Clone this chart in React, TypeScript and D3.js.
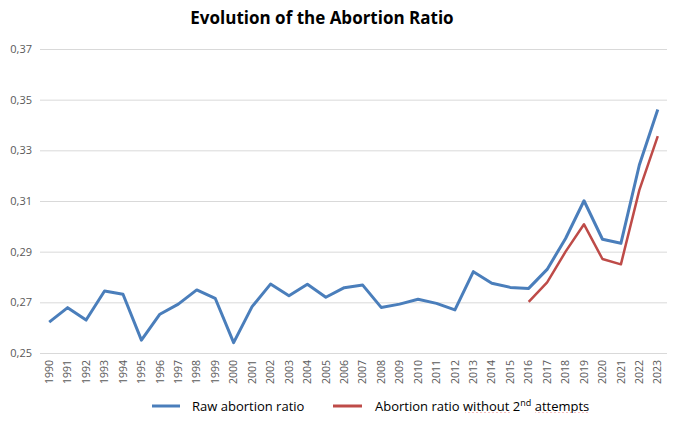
import { useEffect, useRef } from "react";
import * as d3 from "d3";

const years = [
  "1990", "1991", "1992", "1993", "1994", "1995", "1996", "1997", "1998", "1999",
  "2000", "2001", "2002", "2003", "2004", "2005", "2006", "2007", "2008", "2009",
  "2010", "2011", "2012", "2013", "2014", "2015", "2016", "2017", "2018", "2019",
  "2020", "2021", "2022", "2023",
];

const rawRatio = [
  0.2622, 0.2679, 0.263, 0.2745, 0.2732, 0.2551, 0.2653, 0.2693, 0.2749, 0.2716,
  0.2541, 0.2683, 0.2772, 0.2726, 0.2771, 0.272, 0.2758, 0.2768, 0.268, 0.2693,
  0.2712, 0.2696, 0.267, 0.2821, 0.2775, 0.2759, 0.2755, 0.283, 0.2952, 0.3101,
  0.2949, 0.2933, 0.3242, 0.3461,
];

// only available from 2016
const withoutSecond: (number | null)[] = [
  null, null, null, null, null, null, null, null, null, null,
  null, null, null, null, null, null, null, null, null, null,
  null, null, null, null, null, null, 0.2702, 0.2779, 0.29, 0.3008,
  0.2871, 0.285, 0.3143, 0.3356,
];

const yTicks = [0.25, 0.27, 0.29, 0.31, 0.33, 0.35, 0.37];

const BLUE = "#4a7ebb";
const RED = "#be4b48";
const TEXT = "#595959";
const FONT = "'Open Sans', 'Liberation Sans', sans-serif";

export default function App() {
  const svgRef = useRef<SVGSVGElement>(null);

  useEffect(() => {
    if (!svgRef.current) return;
    const svg = d3.select(svgRef.current);
    svg.selectAll("*").remove();

    const width = 677;
    const height = 421;
    const margin = { top: 49, right: 10, bottom: 68, left: 40 };
    const innerW = width - margin.left - margin.right;
    const innerH = height - margin.top - margin.bottom;

    svg.attr("width", width).attr("height", height);

    svg.append("rect").attr("width", width).attr("height", height).attr("fill", "#fff");

    const g = svg.append("g").attr("transform", `translate(${margin.left},${margin.top})`);

    const x = d3.scaleBand().domain(years).range([0, innerW]).padding(0);
    const y = d3.scaleLinear().domain([0.25, 0.37]).range([innerH, 0]);
    const cx = (yr: string) => (x(yr) ?? 0) + x.bandwidth() / 2;

    // grid + y labels
    g.append("g")
      .call(
        d3.axisLeft(y)
          .tickValues(yTicks)
          .tickSize(-innerW)
          .tickPadding(8)
          .tickFormat((d) => d3.format(".2f")(d as number).replace(".", ","))
      )
      .call((a) => a.select(".domain").remove())
      .call((a) => a.selectAll(".tick line").attr("stroke", "#d9d9d9").attr("stroke-width", 1))
      .call((a) =>
        a.selectAll(".tick text")
          .attr("fill", TEXT)
          .attr("font-size", "11px")
          .attr("font-family", FONT)
      );

    // x labels, rotated
    g.append("g")
      .attr("transform", `translate(0,${innerH})`)
      .call(d3.axisBottom(x).tickSize(0).tickPadding(0))
      .call((a) => a.select(".domain").remove())
      .call((a) =>
        a.selectAll(".tick text")
          .attr("fill", TEXT)
          .attr("font-size", "10.5px")
          .attr("font-family", FONT)
          .attr("text-anchor", "end")
          .attr("dy", "0.35em")
          .attr("transform", "translate(0,7) rotate(-90)")
          .attr("x", 0)
          .attr("y", 0)
      );

    const line = d3
      .line<number | null>()
      .defined((d) => d != null)
      .x((_, i) => cx(years[i]))
      .y((d) => y(d as number));

    g.append("path")
      .datum(rawRatio as (number | null)[])
      .attr("fill", "none")
      .attr("stroke", BLUE)
      .attr("stroke-width", 3)
      .attr("stroke-linejoin", "round")
      .attr("d", line);

    g.append("path")
      .datum(withoutSecond)
      .attr("fill", "none")
      .attr("stroke", RED)
      .attr("stroke-width", 2.5)
      .attr("stroke-linejoin", "round")
      .attr("d", line);

    // title
    svg.append("text")
      .attr("x", 322)
      .attr("y", 24)
      .attr("text-anchor", "middle")
      .attr("font-size", "17px")
      .attr("font-weight", "700")
      .attr("font-family", FONT)
      .attr("fill", "#000")
      .text("Evolution of the Abortion Ratio");

    // legend
    const ly = 406;
    const lx = 375;
    const legend = svg.append("g").attr("font-family", FONT).attr("font-size", "13px").attr("fill", "#000");
    legend.append("line")
      .attr("x1", 152).attr("x2", 180).attr("y1", ly).attr("y2", ly)
      .attr("stroke", BLUE).attr("stroke-width", 3);
    legend.append("text").attr("x", 192).attr("y", ly + 5).text("Raw abortion ratio");

    legend.append("line")
      .attr("x1", 333).attr("x2", 362).attr("y1", ly).attr("y2", ly)
      .attr("stroke", RED).attr("stroke-width", 3);
    const t = legend.append("text").attr("x", lx).attr("y", ly + 5);
    t.append("tspan").text("Abortion ratio ");
    t.append("tspan").text("without");
    t.append("tspan").text(" 2");
    t.append("tspan").attr("font-size", "9px").attr("dy", "-5").text("nd");
    t.append("tspan").attr("dy", "5").text(" ");
    t.append("tspan").text("attempts");

    // spell-check squiggles under "without" and "attempts"
    [[465, 511], [535, 590]].forEach(([x0, x1]) => {
      const pts: [number, number][] = [];
      let k = 0;
      for (let px = x0; px <= x1; px += 2, k++) pts.push([px, ly + 7 + (k % 2 === 0 ? 0 : 1.8)]);
      svg.append("path")
        .attr("d", d3.line()(pts))
        .attr("fill", "none")
        .attr("stroke", "#e03030")
        .attr("stroke-width", 1.1);
    });
  }, []);

  return (
    <div style={{ margin: -8 }}>
      <svg ref={svgRef} style={{ display: "block" }} />
    </div>
  );
}
